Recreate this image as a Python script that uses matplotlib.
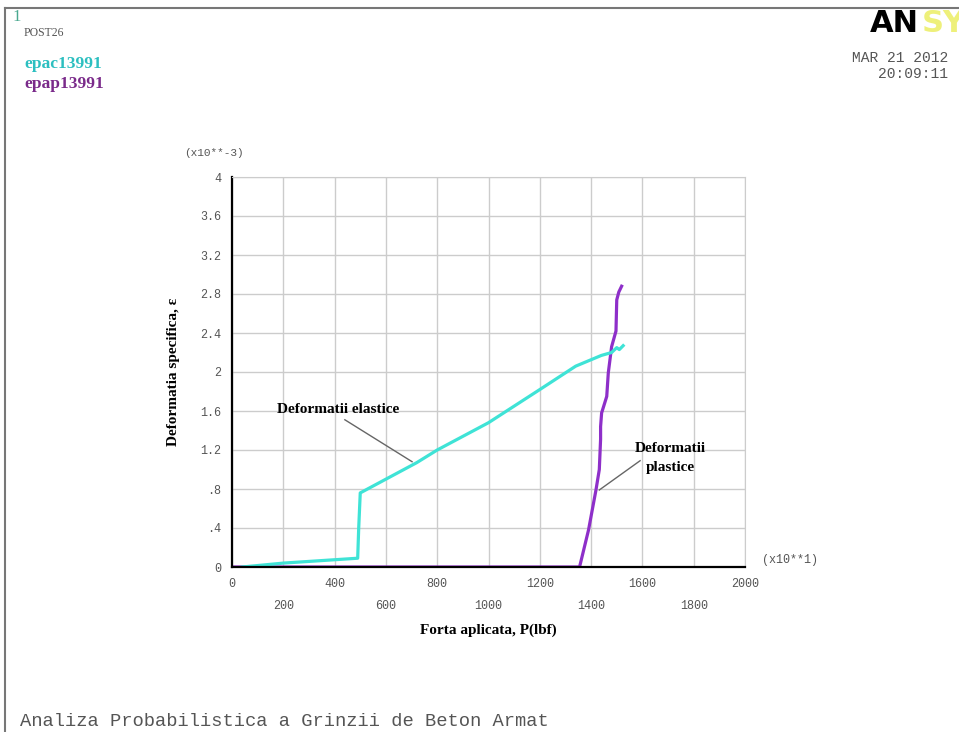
import matplotlib
matplotlib.use('Agg')
import matplotlib.pyplot as plt
from matplotlib.lines import Line2D

# force in units of 10 lbf, strain in units of 1e-3
epac_x = [40, 200, 490, 494, 500, 720, 800, 1000, 1200, 1340, 1440, 1480, 1500, 1510, 1525]
epac_y = [0, 0.04, 0.09, 0.40, 0.76, 1.07, 1.20, 1.48, 1.82, 2.06, 2.17, 2.20, 2.25, 2.23, 2.27]

epap_x = [0, 1355, 1390, 1419, 1432, 1437, 1437, 1441, 1461, 1467, 1480, 1497, 1500, 1508, 1519]
epap_y = [0, 0, 0.38, 0.79, 1.00, 1.31, 1.44, 1.58, 1.75, 1.99, 2.26, 2.42, 2.74, 2.82, 2.88]

xticks = [0, 200, 400, 600, 800, 1000, 1200, 1400, 1600, 1800, 2000]
yticks = [0, 0.4, 0.8, 1.2, 1.6, 2.0, 2.4, 2.8, 3.2, 3.6, 4.0]
ytick_labels = ['0', '.4', '.8', '1.2', '1.6', '2', '2.4', '2.8', '3.2', '3.6', '4']

CYAN = '#3fe3d6'
PURPLE = '#8e2fc9'
MONO = 'Liberation Mono'
SERIF = 'Liberation Serif'

W, H = 959, 732
fig = plt.figure(figsize=(W / 100, H / 100), dpi=100)

def fx(px):
    return px / W

def fy(py):
    return 1 - py / H

ax = fig.add_axes([fx(232), fy(567), fx(745) - fx(232), fy(177) - fy(567)])
ax.plot(epap_x, epap_y, color=PURPLE, lw=2.3, solid_joinstyle='round')
ax.plot(epac_x, epac_y, color=CYAN, lw=2.3, solid_joinstyle='round')
ax.set_xlim(0, 2000)
ax.set_ylim(0, 4)

ax.set_xticks(xticks)
ax.set_xticklabels([str(t) if i % 2 == 0 else '\n' + str(t) for i, t in enumerate(xticks)],
                   family=MONO, fontsize=8.5, color='#555555', linespacing=2.1)
ax.set_yticks(yticks)
ax.set_yticklabels(ytick_labels, family=MONO, fontsize=8.5, color='#555555')
ax.tick_params(length=0, pad=8)
ax.grid(True, color='#cccccc', lw=1)
ax.set_axisbelow(True)
for s in ['top', 'right']:
    ax.spines[s].set_color('#cccccc')
for s in ['left', 'bottom']:
    ax.spines[s].set_color('black')
    ax.spines[s].set_linewidth(1.6)

ax.set_xlabel('Forta aplicata, P(lbf)', family=SERIF, fontweight='bold', fontsize=11, labelpad=8)
ax.set_ylabel('Deformatia specifica, ε', family=SERIF, fontweight='bold', fontsize=11, labelpad=14)

# annotations
ax.text(415, 1.62, 'Deformatii elastice', family=SERIF, fontweight='bold', fontsize=11,
        ha='center', va='center')
ax.plot([440, 702], [1.51, 1.08], color='#666666', lw=1)
ax.text(1710, 1.12, 'Deformatii\nplastice', family=SERIF, fontweight='bold', fontsize=11,
        ha='center', va='center', linespacing=1.6)
ax.plot([1591, 1432], [1.09, 0.79], color='#666666', lw=1)

# page texts
fig.text(fx(12), fy(17), '1', color='#4aa890', fontsize=12, family=SERIF, va='center')
fig.text(fx(24), fy(33), 'POST26', color='#555555', fontsize=8.5, family=SERIF, va='center')
fig.text(fx(24), fy(64), 'epac13991', color='#2cbfc0', fontsize=12.5, family=SERIF,
         fontweight='bold', va='center')
fig.text(fx(24), fy(84), 'epap13991', color='#7a2a8a', fontsize=12.5, family=SERIF,
         fontweight='bold', va='center')
fig.text(fx(214), fy(153), '(x10**-3)', color='#555555', fontsize=8, family=MONO,
         ha='center', va='center')
fig.text(fx(790), fy(560), '(x10**1)', color='#555555', fontsize=8.5, family=MONO,
         ha='center', va='center')
fig.text(fx(870), fy(23), 'AN', color='black', fontsize=22, family='DejaVu Sans',
         fontweight='heavy', va='center')
fig.text(fx(922), fy(23), 'SYS', color='#eef07a', fontsize=22, family='DejaVu Sans',
         fontweight='bold', va='center')
fig.text(fx(948), fy(58), 'MAR 21 2012', color='#555555', fontsize=10.5, family=MONO,
         ha='right', va='center')
fig.text(fx(948), fy(74), '20:09:11', color='#555555', fontsize=10.5, family=MONO,
         ha='right', va='center')
fig.text(fx(20), fy(721), 'Analiza Probabilistica a Grinzii de Beton Armat', color='#555555',
         fontsize=13.5, family=MONO, va='center')

# window frame (top and left edges)
fig.add_artist(Line2D([fx(5), 1], [fy(8), fy(8)], color='#777777', lw=1.5))
fig.add_artist(Line2D([fx(5), fx(5)], [0, fy(8)], color='#777777', lw=1.5))

fig.savefig('out.png', dpi=100)
